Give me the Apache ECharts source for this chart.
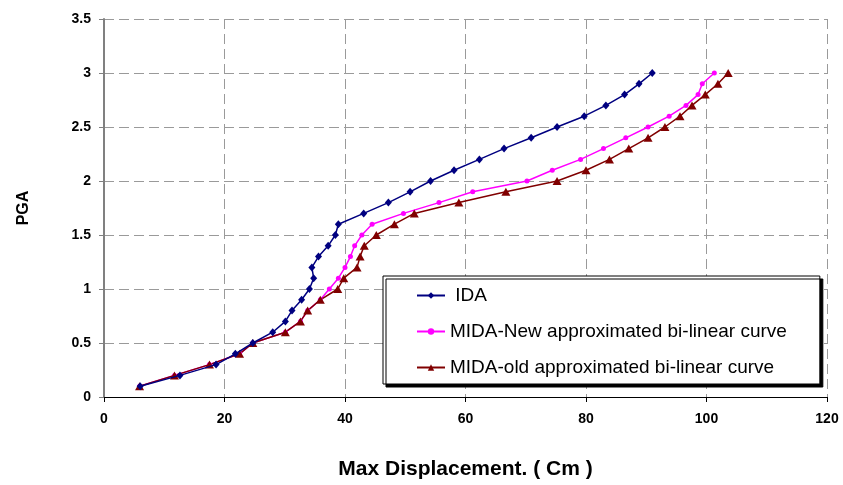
<!DOCTYPE html>
<html>
<head>
<meta charset="utf-8">
<script src="https://cdn.jsdelivr.net/npm/echarts@6/dist/echarts.min.js"></script>
<style>
    html, body { margin: 0; padding: 0; background: #fff; }
    #chart { width: 843px; height: 485px; }
</style>
</head>
<body>
<div id="chart"></div>
<script type="text/javascript">
    // PGA levels (y) shared by the three curves
    var pgaLevels = [0.1, 0.2, 0.3, 0.4, 0.5, 0.6, 0.7, 0.8, 0.9, 1.0,
                     1.1, 1.2, 1.3, 1.4, 1.5, 1.6, 1.7, 1.8, 1.9, 2.0,
                     2.1, 2.2, 2.3, 2.4, 2.5, 2.6, 2.7, 2.8, 2.9, 3.0];

    // max displacement (cm)
    var idaDisp = [6.0, 12.6, 18.6, 21.8, 24.7, 28.0, 30.1, 31.2, 32.8, 34.1,
                   34.8, 34.5, 35.6, 37.2, 38.4, 38.9, 43.1, 47.2, 50.8, 54.2,
                   58.1, 62.3, 66.4, 70.9, 75.2, 79.7, 83.3, 86.4, 88.8, 91.0];
    var midaNewDisp = [5.9, 11.7, 17.5, 22.5, 24.7, 30.1, 32.6, 33.8, 35.9, 37.4,
                       38.9, 40.0, 40.9, 41.6, 42.8, 44.5, 49.7, 55.6, 61.2, 70.2,
                       74.4, 79.1, 82.9, 86.6, 90.3, 93.8, 96.6, 98.6, 99.3, 101.3];
    var midaOldDisp = [5.9, 11.7, 17.5, 22.5, 24.7, 30.1, 32.6, 33.8, 35.9, 38.8,
                       39.8, 42.0, 42.5, 43.2, 45.2, 48.2, 51.5, 58.9, 66.7, 75.2,
                       80.0, 83.9, 87.1, 90.3, 93.1, 95.6, 97.6, 99.8, 101.9, 103.6];

    var seriesNames = ['IDA', 'MIDA-New approximated bi-linear curve', 'MIDA-old approximated bi-linear curve'];
    var xTicks = [0, 20, 40, 60, 80, 100, 120];
    var yTicks = [0, 0.5, 1, 1.5, 2, 2.5, 3, 3.5];

    var fontFam = "Arial, 'Liberation Sans', sans-serif";

    function pairs(xs) {
        var out = [];
        for (var i = 0; i < xs.length; i++) {
            out.push([xs[i], pgaLevels[i]]);
        }
        return out;
    }

    var gridDash = { color: '#9a9a9a', width: 1, type: [10, 5] };

    var option = {
        backgroundColor: '#ffffff',
        animation: false,
        textStyle: { fontFamily: fontFam },
        grid: { left: 104, right: 16, top: 19, bottom: 87 },
        legend: {
            data: seriesNames,
            orient: 'vertical',
            left: 383,
            top: 276,
            padding: [10, 33, 7, 33],
            itemGap: 17,
            itemWidth: 28,
            itemHeight: 8,
            backgroundColor: '#ffffff',
            borderColor: '#000000',
            borderWidth: 1,
            shadowColor: '#000000',
            shadowBlur: 0,
            shadowOffsetX: 3,
            shadowOffsetY: 3,
            formatter: function (name) {
                return name === 'IDA' ? ' IDA' : name;
            },
            textStyle: { fontSize: 19, color: '#000', fontFamily: fontFam }
        },
        xAxis: {
            type: 'value',
            min: xTicks[0],
            max: xTicks[xTicks.length - 1],
            interval: 20,
            name: 'Max Displacement. ( Cm )',
            nameLocation: 'middle',
            nameGap: 62,
            nameTextStyle: { fontSize: 21, fontWeight: 'bold', color: '#000', fontFamily: fontFam },
            axisLine: { show: true, lineStyle: { color: '#000', width: 1 } },
            axisTick: { show: true, inside: false, length: 5, lineStyle: { color: '#000' } },
            axisLabel: { margin: 15, fontSize: 14, fontWeight: 'bold', color: '#000', fontFamily: fontFam },
            splitLine: { show: true, lineStyle: gridDash }
        },
        yAxis: {
            type: 'value',
            min: yTicks[0],
            max: yTicks[yTicks.length - 1],
            interval: 0.5,
            name: 'PGA',
            nameLocation: 'middle',
            nameRotate: 90,
            nameGap: 72,
            nameTextStyle: { fontSize: 16, fontWeight: 'bold', color: '#000', fontFamily: fontFam },
            axisLine: { show: true, lineStyle: { color: '#808080', width: 2 } },
            axisTick: { show: true, inside: false, length: 5, lineStyle: { color: '#808080' } },
            axisLabel: { margin: 13, fontSize: 14, fontWeight: 'bold', color: '#000', fontFamily: fontFam },
            splitLine: { show: true, lineStyle: gridDash }
        },
        series: [
            {
                name: seriesNames[0],
                type: 'line',
                data: pairs(idaDisp),
                symbol: 'diamond',
                symbolSize: [7, 8],
                z: 3,
                lineStyle: { color: '#000080', width: 1.5 },
                itemStyle: { color: '#000080' }
            },
            {
                name: seriesNames[1],
                type: 'line',
                data: pairs(midaNewDisp),
                symbol: 'circle',
                symbolSize: 5,
                z: 2,
                lineStyle: { color: '#ff00ff', width: 1.5 },
                itemStyle: { color: '#ff00ff' }
            },
            {
                name: seriesNames[2],
                type: 'line',
                data: pairs(midaOldDisp),
                symbol: 'triangle',
                symbolSize: [9, 8],
                z: 2,
                lineStyle: { color: '#800000', width: 1.5 },
                itemStyle: { color: '#800000' }
            }
        ]
    };

    var myChart = echarts.init(document.getElementById('chart'));
    myChart.setOption(option);
</script>
</body>
</html>
